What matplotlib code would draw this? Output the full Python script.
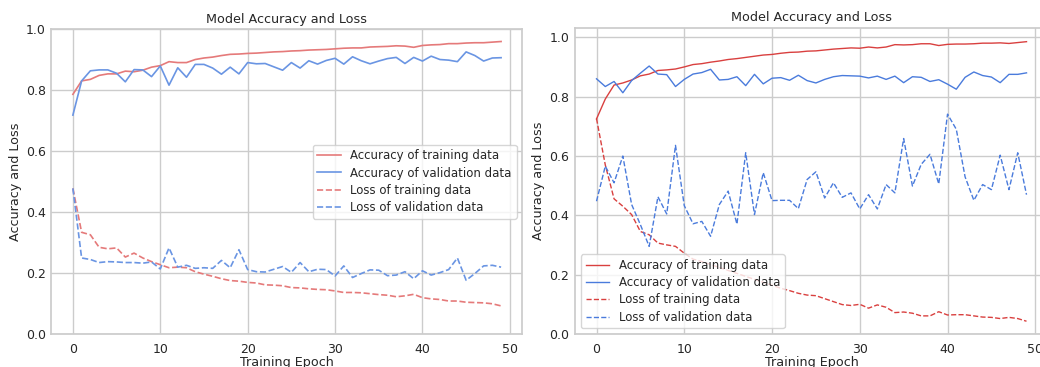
import matplotlib
matplotlib.use('Agg')
import matplotlib.pyplot as plt

# seaborn "whitegrid"-like look, done by hand
plt.rcParams.update({
    'font.family': 'DejaVu Sans',
    'text.color': '.15',
    'axes.labelcolor': '.15',
    'xtick.color': '.15',
    'ytick.color': '.15',
    'axes.edgecolor': '.8',
    'axes.linewidth': 1.25,
    'grid.color': '.8',
    'grid.linewidth': 1.0,
    'xtick.major.size': 0,
    'ytick.major.size': 0,
    'xtick.major.pad': 6,
    'ytick.major.pad': 4,
})

epochs = list(range(50))

# left panel
acc_train_a = [0.786, 0.83, 0.835, 0.848, 0.853, 0.853, 0.862, 0.86, 0.865, 0.875,
               0.88, 0.893, 0.89, 0.89, 0.9, 0.905, 0.908, 0.913, 0.917, 0.918,
               0.92, 0.921, 0.923, 0.925, 0.926, 0.928, 0.929, 0.931, 0.932, 0.933,
               0.935, 0.937, 0.938, 0.938, 0.941, 0.942, 0.943, 0.945, 0.944, 0.94,
               0.946, 0.948, 0.949, 0.952, 0.952, 0.954, 0.955, 0.955, 0.957, 0.959]
acc_val_a = [0.718, 0.83, 0.863, 0.866, 0.866, 0.855, 0.827, 0.867, 0.866, 0.844,
             0.879, 0.816, 0.873, 0.842, 0.884, 0.884, 0.872, 0.852, 0.875, 0.853,
             0.89, 0.886, 0.887, 0.876, 0.865, 0.89, 0.872, 0.896, 0.885, 0.897,
             0.904, 0.885, 0.909, 0.896, 0.886, 0.895, 0.903, 0.907, 0.887, 0.907,
             0.895, 0.911, 0.9, 0.898, 0.893, 0.925, 0.913, 0.895, 0.905, 0.906]
loss_train_a = [0.478, 0.334, 0.326, 0.285, 0.28, 0.283, 0.253, 0.266, 0.25, 0.238,
                0.228, 0.218, 0.22, 0.218, 0.205, 0.197, 0.19, 0.182, 0.176, 0.174,
                0.17, 0.168, 0.162, 0.161, 0.159, 0.153, 0.152, 0.149, 0.147, 0.146,
                0.142, 0.137, 0.137, 0.136, 0.133, 0.13, 0.128, 0.123, 0.126, 0.131,
                0.12, 0.116, 0.114, 0.109, 0.109, 0.105, 0.104, 0.103, 0.1, 0.093]
loss_val_a = [0.478, 0.25, 0.245, 0.235, 0.238, 0.237, 0.235, 0.235, 0.233, 0.237,
              0.214, 0.283, 0.22, 0.226, 0.216, 0.218, 0.216, 0.242, 0.218, 0.277,
              0.212, 0.205, 0.204, 0.213, 0.222, 0.203, 0.235, 0.205, 0.213, 0.212,
              0.191, 0.224, 0.186, 0.199, 0.211, 0.21, 0.192, 0.194, 0.205, 0.182,
              0.208, 0.194, 0.202, 0.212, 0.25, 0.177, 0.199, 0.224, 0.226, 0.22]

# right panel
acc_train_b = [0.725, 0.792, 0.839, 0.846, 0.856, 0.87, 0.876, 0.888, 0.89, 0.893,
               0.9, 0.908, 0.911, 0.916, 0.92, 0.925, 0.928, 0.932, 0.936, 0.94,
               0.942, 0.946, 0.949, 0.95, 0.953, 0.954, 0.957, 0.96, 0.962, 0.964,
               0.963, 0.967, 0.964, 0.967, 0.975, 0.974, 0.975, 0.978, 0.978, 0.972,
               0.976, 0.977, 0.977, 0.978, 0.98, 0.98, 0.981, 0.979, 0.982, 0.985]
acc_val_b = [0.86, 0.834, 0.851, 0.813, 0.854, 0.879, 0.903, 0.876, 0.874, 0.834,
             0.858, 0.876, 0.881, 0.892, 0.856, 0.858, 0.867, 0.837, 0.875, 0.843,
             0.862, 0.864, 0.855, 0.872, 0.854, 0.846, 0.858, 0.867, 0.871, 0.87,
             0.869, 0.863, 0.869, 0.858, 0.869, 0.847, 0.867, 0.865, 0.851, 0.857,
             0.842, 0.825, 0.865, 0.883, 0.871, 0.866, 0.847, 0.875, 0.875, 0.88]
loss_train_b = [0.726, 0.57, 0.456, 0.431, 0.403, 0.346, 0.335, 0.307, 0.301, 0.296,
                0.273, 0.253, 0.245, 0.235, 0.225, 0.215, 0.205, 0.195, 0.185, 0.175,
                0.165, 0.155, 0.147, 0.138, 0.132, 0.13, 0.12, 0.11, 0.1, 0.097,
                0.101, 0.088, 0.099, 0.091, 0.073, 0.075, 0.071, 0.062, 0.062, 0.076,
                0.065, 0.066, 0.066, 0.062, 0.058, 0.057, 0.053, 0.057, 0.053, 0.044]
loss_val_b = [0.448, 0.566, 0.51, 0.6, 0.437, 0.369, 0.296, 0.463, 0.405, 0.636,
              0.433, 0.372, 0.38, 0.33, 0.437, 0.482, 0.371, 0.611, 0.403, 0.544,
              0.45, 0.451, 0.451, 0.423, 0.521, 0.547, 0.459, 0.51, 0.461, 0.476,
              0.422, 0.47, 0.422, 0.504, 0.476, 0.659, 0.499, 0.572, 0.606, 0.506,
              0.741, 0.69, 0.53, 0.451, 0.504, 0.487, 0.603, 0.487, 0.611, 0.47]

labels = ['Accuracy of training data', 'Accuracy of validation data',
          'Loss of training data', 'Loss of validation data']

fig = plt.figure(figsize=(10.4, 3.67), dpi=100)
ax1 = fig.add_axes([0.0495, 0.0891, 0.4529, 0.8319])
ax2 = fig.add_axes([0.5529, 0.0891, 0.4548, 0.8354])


def draw(ax, acc_t, acc_v, loss_t, loss_v, red, blue, lw, top, loc):
    ax.plot(epochs, acc_t, color=red, lw=lw, label=labels[0])
    ax.plot(epochs, acc_v, color=blue, lw=lw, label=labels[1])
    ax.plot(epochs, loss_t, color=red, lw=lw, ls='--', label=labels[2])
    ax.plot(epochs, loss_v, color=blue, lw=lw, ls='--', label=labels[3])
    ax.set_xlim(-2.45, 51.45)
    ax.set_ylim(0, top)
    ax.set_xticks(range(0, 51, 10))
    ax.set_yticks([0, 0.2, 0.4, 0.6, 0.8, 1.0])
    ax.grid(True)
    ax.set_axisbelow(True)
    ax.tick_params(labelsize=9)
    ax.set_title('Model Accuracy and Loss', fontsize=9.2, pad=4.5)
    ax.set_xlabel('Training Epoch', fontsize=9.2, labelpad=0)
    ax.set_ylabel('Accuracy and Loss', fontsize=9.2, labelpad=3)
    ax.legend(loc=loc, fontsize=8.5, framealpha=0.8, edgecolor='.8',
              labelspacing=0.36)


draw(ax1, acc_train_a, acc_val_a, loss_train_a, loss_val_a,
     '#e57a7a', '#6a95e3', 1.2, 1.0, 'center right')
draw(ax2, acc_train_b, acc_val_b, loss_train_b, loss_val_b,
     '#d9403f', '#4a7bdc', 1.0, 1.032, 'lower left')

plt.savefig('out.png', dpi=100)
